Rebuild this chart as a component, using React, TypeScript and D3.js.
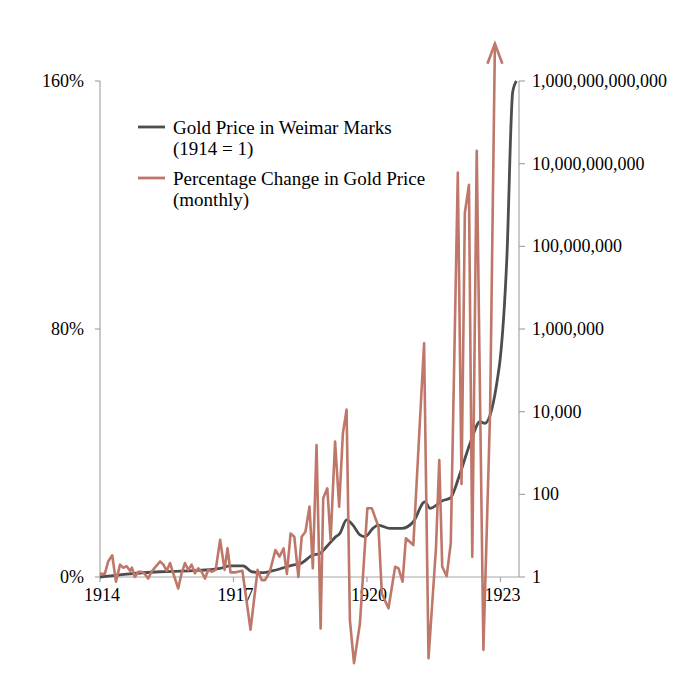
import React, { useEffect, useRef } from 'react';
import * as d3 from 'd3';

// months since Jan 1914, value
const goldPrice: [number, number][] = [
  [0, 1], [7.2, 1.18], [16.2, 1.34], [25.1, 1.42], [32.4, 1.62], [35.1, 1.85], [38.6, 1.85],
  [40.9, 1.34], [44, 1.27], [46.7, 1.42], [52, 1.95], [54, 2.1], [57.4, 3.4], [59.3, 3.7],
  [61.1, 5.4], [63.4, 9.1], [64.7, 11.4], [66.5, 24], [68.2, 18], [70.1, 10.4], [71.5, 9.4],
  [73.6, 15], [75, 18], [78.2, 15], [81.4, 15], [84.5, 21.7], [87.6, 66], [89, 46], [92.6, 72],
  [94.4, 80], [97.1, 320], [99.8, 1700], [102.5, 5700], [103.8, 5200], [105.6, 10900],
  [107.4, 83000], [107.9, 1.8e5], [109.7, 4.6e7], [111.3, 5.4e11], [112.3, 1e12]
];

const pctChange: [number, number][] = [
  [0, 1], [1.3, 1], [2.2, 5], [3.3, 7], [4.3, -1.5], [5.4, 4], [6.3, 3], [7.2, 3.5], [8.1, 2],
  [8.6, 3], [9.4, 0], [10.3, 1.7], [11.2, 1.7], [12.1, 1], [13, -0.5], [13.9, 1.7], [14.8, 3],
  [16.2, 5], [17.1, 4], [18, 2], [18.9, 4.5], [19.8, 1], [21.1, -3.7], [22, 1.2], [22.9, 4.5],
  [23.8, 2.3], [24.7, 4], [25.6, 1.2], [26.5, 2.8], [27.4, 1.7], [28.3, -0.5], [29.2, 2.3],
  [30.1, 1.7], [31.2, 2.3], [32.4, 12], [33.6, 2.3], [34.4, 9.3], [35.2, 1.5], [36.6, 1.5],
  [38.4, 2], [40.6, -17], [42.5, 2.3], [43.6, -1], [44.5, -1], [45.8, 1.7], [47.3, 8.7],
  [48.4, 6.6], [49.5, 9.2], [50.4, 1], [51.4, 14], [52.4, 13], [53.5, 0], [54.4, 13],
  [55.4, 14.6], [56.5, 22.7], [57.4, 2.8], [58.4, 42.6], [59.5, -16.6], [60.2, 25.4],
  [61.3, 28.6], [62.2, 12], [63.4, 43.7], [64.5, 22.7], [65.5, 46.3], [66.5, 54], [67.4, -14],
  [68.5, -27.8], [70.1, -15], [72.1, 22.2], [73.3, 22.2], [75.1, 16.2], [76, -5.3],
  [77.8, -10.1], [79.6, 3.3], [80.5, 2.8], [81.6, -1.5], [82.5, 12.5], [84.5, 10.3],
  [87.4, 75.4], [88.6, -26.2], [90.6, 9.2], [91.5, 37.7], [92.3, 3.3], [93.5, 0.3],
  [94.6, 10.9], [96.5, 130.5], [97.5, 30], [98.4, 117.5], [99.5, 126.5], [100.4, 6.5],
  [101.6, 137.5], [103.4, -23.5], [105.2, 53], [106.5, 172]
];

const yearTicks = [1914, 1917, 1920, 1923];
const pctTicks = [0, 80, 160];
const goldTicks = [1, 1e2, 1e4, 1e6, 1e8, 1e10, 1e12];
const legendItems = [
  { lines: ['Gold Price in Weimar Marks', '(1914 = 1)'], color: '#4d4d4d' },
  { lines: ['Percentage Change in Gold Price', '(monthly)'], color: '#bf776a' }
];

const App: React.FC = () => {
  const svgRef = useRef<SVGSVGElement>(null);

  useEffect(() => {
    if (!svgRef.current) return;
    const svg = d3.select(svgRef.current);
    svg.selectAll('*').remove();

    const font = '"Liberation Serif", "Times New Roman", serif';
    const axisColor = '#a6a6a6';
    const left = 100, right = 519, top = 81, bottom = 577;

    const x = d3.scaleLinear().domain([0, 113]).range([left, right]);
    const yPct = d3.scaleLinear().domain([0, 160]).range([bottom, top]);
    const yGold = d3.scaleLog().domain([1, 1e12]).range([bottom, top]);

    // axes
    const axes = svg.append('g').attr('stroke', axisColor).attr('stroke-width', 1.2);
    axes.append('line').attr('x1', left).attr('x2', left).attr('y1', top).attr('y2', bottom);
    axes.append('line').attr('x1', right).attr('x2', right).attr('y1', top).attr('y2', bottom);
    axes.append('line').attr('x1', left).attr('x2', right).attr('y1', bottom).attr('y2', bottom);

    pctTicks.forEach(t => {
      axes.append('line').attr('x1', left - 5).attr('x2', left)
        .attr('y1', yPct(t)).attr('y2', yPct(t));
      svg.append('text').attr('x', left - 16).attr('y', yPct(t) + 6)
        .attr('text-anchor', 'end').attr('font-family', font).attr('font-size', 18)
        .attr('fill', '#000').text(`${t}%`);
    });

    goldTicks.forEach(t => {
      axes.append('line').attr('x1', right).attr('x2', right + 6)
        .attr('y1', yGold(t)).attr('y2', yGold(t));
      svg.append('text').attr('x', right + 13).attr('y', yGold(t) + 6)
        .attr('font-family', font).attr('font-size', 18)
        .attr('fill', '#000').text(d3.format(',.0f')(t));
    });

    yearTicks.forEach(yr => {
      const m = (yr - 1914) * 12;
      axes.append('line').attr('x1', x(m)).attr('x2', x(m))
        .attr('y1', bottom).attr('y2', bottom + 5);
      svg.append('text').attr('x', x(m) + 2).attr('y', bottom + 24)
        .attr('text-anchor', 'middle').attr('font-family', font).attr('font-size', 18)
        .attr('fill', '#000').text(String(yr));
    });

    // gold price line (log scale)
    const goldLine = d3.line<[number, number]>()
      .x(d => x(d[0]))
      .y(d => yGold(d[1]))
      .curve(d3.curveMonotoneX);
    svg.append('path').datum(goldPrice).attr('d', goldLine)
      .attr('fill', 'none').attr('stroke', legendItems[0].color)
      .attr('stroke-width', 2.8).attr('stroke-linejoin', 'round');

    // percentage change line, the last value runs off the top: arrow
    const defs = svg.append('defs');
    defs.append('marker')
      .attr('id', 'arrow')
      .attr('markerUnits', 'userSpaceOnUse')
      .attr('viewBox', '-24 -10 28 20')
      .attr('markerWidth', 28).attr('markerHeight', 20)
      .attr('refX', 0).attr('refY', 0)
      .attr('orient', '-90')
      .append('path')
      .attr('d', 'M-20,-7.5L0,0L-20,7.5')
      .attr('fill', 'none').attr('stroke', legendItems[1].color)
      .attr('stroke-width', 2.6).attr('stroke-linejoin', 'miter');

    const pctLine = d3.line<[number, number]>()
      .x(d => x(d[0]))
      .y(d => yPct(d[1]));
    svg.append('path').datum(pctChange).attr('d', pctLine)
      .attr('fill', 'none').attr('stroke', legendItems[1].color)
      .attr('stroke-width', 2.6).attr('stroke-linejoin', 'round')
      .attr('marker-end', 'url(#arrow)');

    // legend
    legendItems.forEach((item, i) => {
      const yy = 127 + i * 51;
      svg.append('line').attr('x1', 138).attr('x2', 165).attr('y1', yy).attr('y2', yy)
        .attr('stroke', item.color).attr('stroke-width', 2.8);
      item.lines.forEach((ln, j) => {
        svg.append('text').attr('x', 173).attr('y', yy + 7 + j * 21)
          .attr('font-family', font).attr('font-size', 19).attr('fill', '#000').text(ln);
      });
    });
  }, []);

  return (
    <svg
      ref={svgRef}
      width={685}
      height={682}
      style={{ position: 'absolute', left: 0, top: 0, background: '#fff' }}
    />
  );
};

export default App;
